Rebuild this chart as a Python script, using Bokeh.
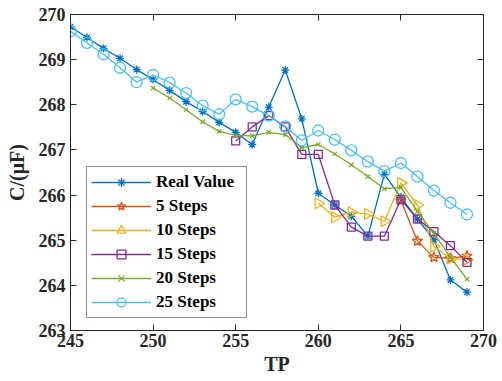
import numpy as np
from bokeh.plotting import figure
from bokeh.models import Legend, LegendItem, LinearAxis, Range1d, FixedTicker, ColumnDataSource
from bokeh.embed import file_html
from bokeh.resources import INLINE

tp_real = list(range(245, 270))
real_value = [269.73, 269.49, 269.25, 269.03, 268.78, 268.56, 268.32, 268.07, 267.85, 267.61,
              267.39, 267.12, 267.95, 268.77, 267.69, 266.04, 265.78, 265.53, 265.09, 266.46,
              265.95, 265.47, 265.01, 264.12, 263.85]

tp_5 = list(range(265, 270))
steps_5 = [265.88, 264.98, 264.62, 264.60, 264.65]

tp_10 = list(range(260, 270))
steps_10 = [265.82, 265.51, 265.62, 265.58, 265.42, 266.27, 265.78, 264.86, 264.59, 264.57]

tp_15 = list(range(255, 270))
steps_15 = [267.20, 267.51, 267.76, 267.51, 266.90, 266.90, 265.78, 265.29, 265.09, 265.09,
            265.90, 265.47, 265.19, 264.88, 264.51]

tp_20 = list(range(250, 270))
steps_20 = [268.37, 268.15, 267.89, 267.62, 267.41, 267.32, 267.31, 267.39, 267.34, 267.05,
            267.12, 266.91, 266.67, 266.41, 266.14, 266.17, 265.64, 265.15, 264.62, 264.14]

tp_25 = list(range(245, 270))
steps_25 = [269.63, 269.37, 269.12, 268.82, 268.50, 268.66, 268.49, 268.26, 267.98, 267.79,
            268.12, 267.96, 267.76, 267.52, 267.21, 267.43, 267.23, 266.99, 266.74, 266.53,
            266.71, 266.41, 266.10, 265.83, 265.57]

x_ticks = [245, 250, 255, 260, 265, 270]
y_ticks = [263, 264, 265, 266, 267, 268, 269, 270]

FONT = "Liberation Serif"
INK = "#262626"

p = figure(width=502, height=381, output_backend="svg", toolbar_location=None,
           x_range=Range1d(245, 270), y_range=Range1d(263, 270),
           min_border_left=70, min_border_right=19, min_border_top=14, min_border_bottom=51)
p.xgrid.visible = False
p.ygrid.visible = False
p.outline_line_color = INK
p.outline_line_width = 1
p.background_fill_color = "white"
p.border_fill_color = "white"

for ax in (p.xaxis[0], p.yaxis[0]):
    ax.major_tick_in = 6
    ax.major_tick_out = 0
    ax.minor_tick_in = 0
    ax.minor_tick_out = 0
    ax.axis_line_color = INK
    ax.major_tick_line_color = INK
    ax.major_label_text_font = FONT
    ax.major_label_text_font_style = "bold"
    ax.major_label_text_font_size = "18px"
    ax.major_label_text_color = INK
    ax.axis_label_text_font = FONT
    ax.axis_label_text_font_style = "bold"
    ax.axis_label_text_font_size = "20px"
    ax.axis_label_text_color = INK

p.xaxis.ticker = FixedTicker(ticks=x_ticks)
p.yaxis.ticker = FixedTicker(ticks=y_ticks)
p.xaxis.axis_label = "TP"
p.yaxis.axis_label = "C/(μF)"
p.xaxis.major_label_standoff = 3
p.yaxis.major_label_standoff = 5
p.xaxis.axis_label_standoff = 3
p.yaxis.axis_label_standoff = 8

series = [
    ("Real Value", tp_real, real_value, "#0072BD", "asterisk", 8, 0.0),
    ("5 Steps", tp_5, steps_5, "#D95319", "star", 11, 0.0),
    ("10 Steps", tp_10, steps_10, "#EDB120", "triangle", 11, -np.pi / 2),
    ("15 Steps", tp_15, steps_15, "#7E2F8E", "square", 8, 0.0),
    ("20 Steps", tp_20, steps_20, "#77AC30", "x", 6, 0.0),
    ("25 Steps", tp_25, steps_25, "#4DBEEE", "circle", 11, 0.0),
]

items = []
for name, xs, ys, color, marker, size, ang in series:
    src = ColumnDataSource(dict(x=xs, y=ys, ang=[ang] * len(xs)))
    l = p.line("x", "y", source=src, line_color=color, line_width=1.3)
    s = p.scatter("x", "y", source=src, marker=marker, size=size, angle="ang",
                  line_color=color, fill_color=None, line_width=1.3)
    items.append(LegendItem(label=name, renderers=[l, s]))

legend = Legend(items=items, location=(16, 12))
legend.label_text_font = FONT
legend.label_text_font_style = "bold"
legend.label_text_font_size = "17px"
legend.label_text_color = "#000000"
legend.glyph_width = 60
legend.glyph_height = 22
legend.label_height = 22
legend.label_width = 86
legend.spacing = 2
legend.padding = 4
legend.margin = 0
legend.label_standoff = 5
legend.border_line_color = INK
legend.border_line_width = 1
legend.background_fill_color = "white"
legend.background_fill_alpha = 1
p.add_layout(legend, "center")

top = LinearAxis(ticker=FixedTicker(ticks=x_ticks),
                 major_label_overrides={t: "" for t in x_ticks},
                 major_tick_in=6, major_tick_out=0, minor_tick_in=0, minor_tick_out=0,
                 axis_line_color=None, major_tick_line_color=INK, major_label_standoff=0)
right = LinearAxis(ticker=FixedTicker(ticks=y_ticks),
                   major_label_overrides={t: "" for t in y_ticks},
                   major_tick_in=6, major_tick_out=0, minor_tick_in=0, minor_tick_out=0,
                   axis_line_color=None, major_tick_line_color=INK, major_label_standoff=0)
p.add_layout(top, "above")
p.add_layout(right, "right")

open("out.html", "w").write(file_html(p, INLINE))
